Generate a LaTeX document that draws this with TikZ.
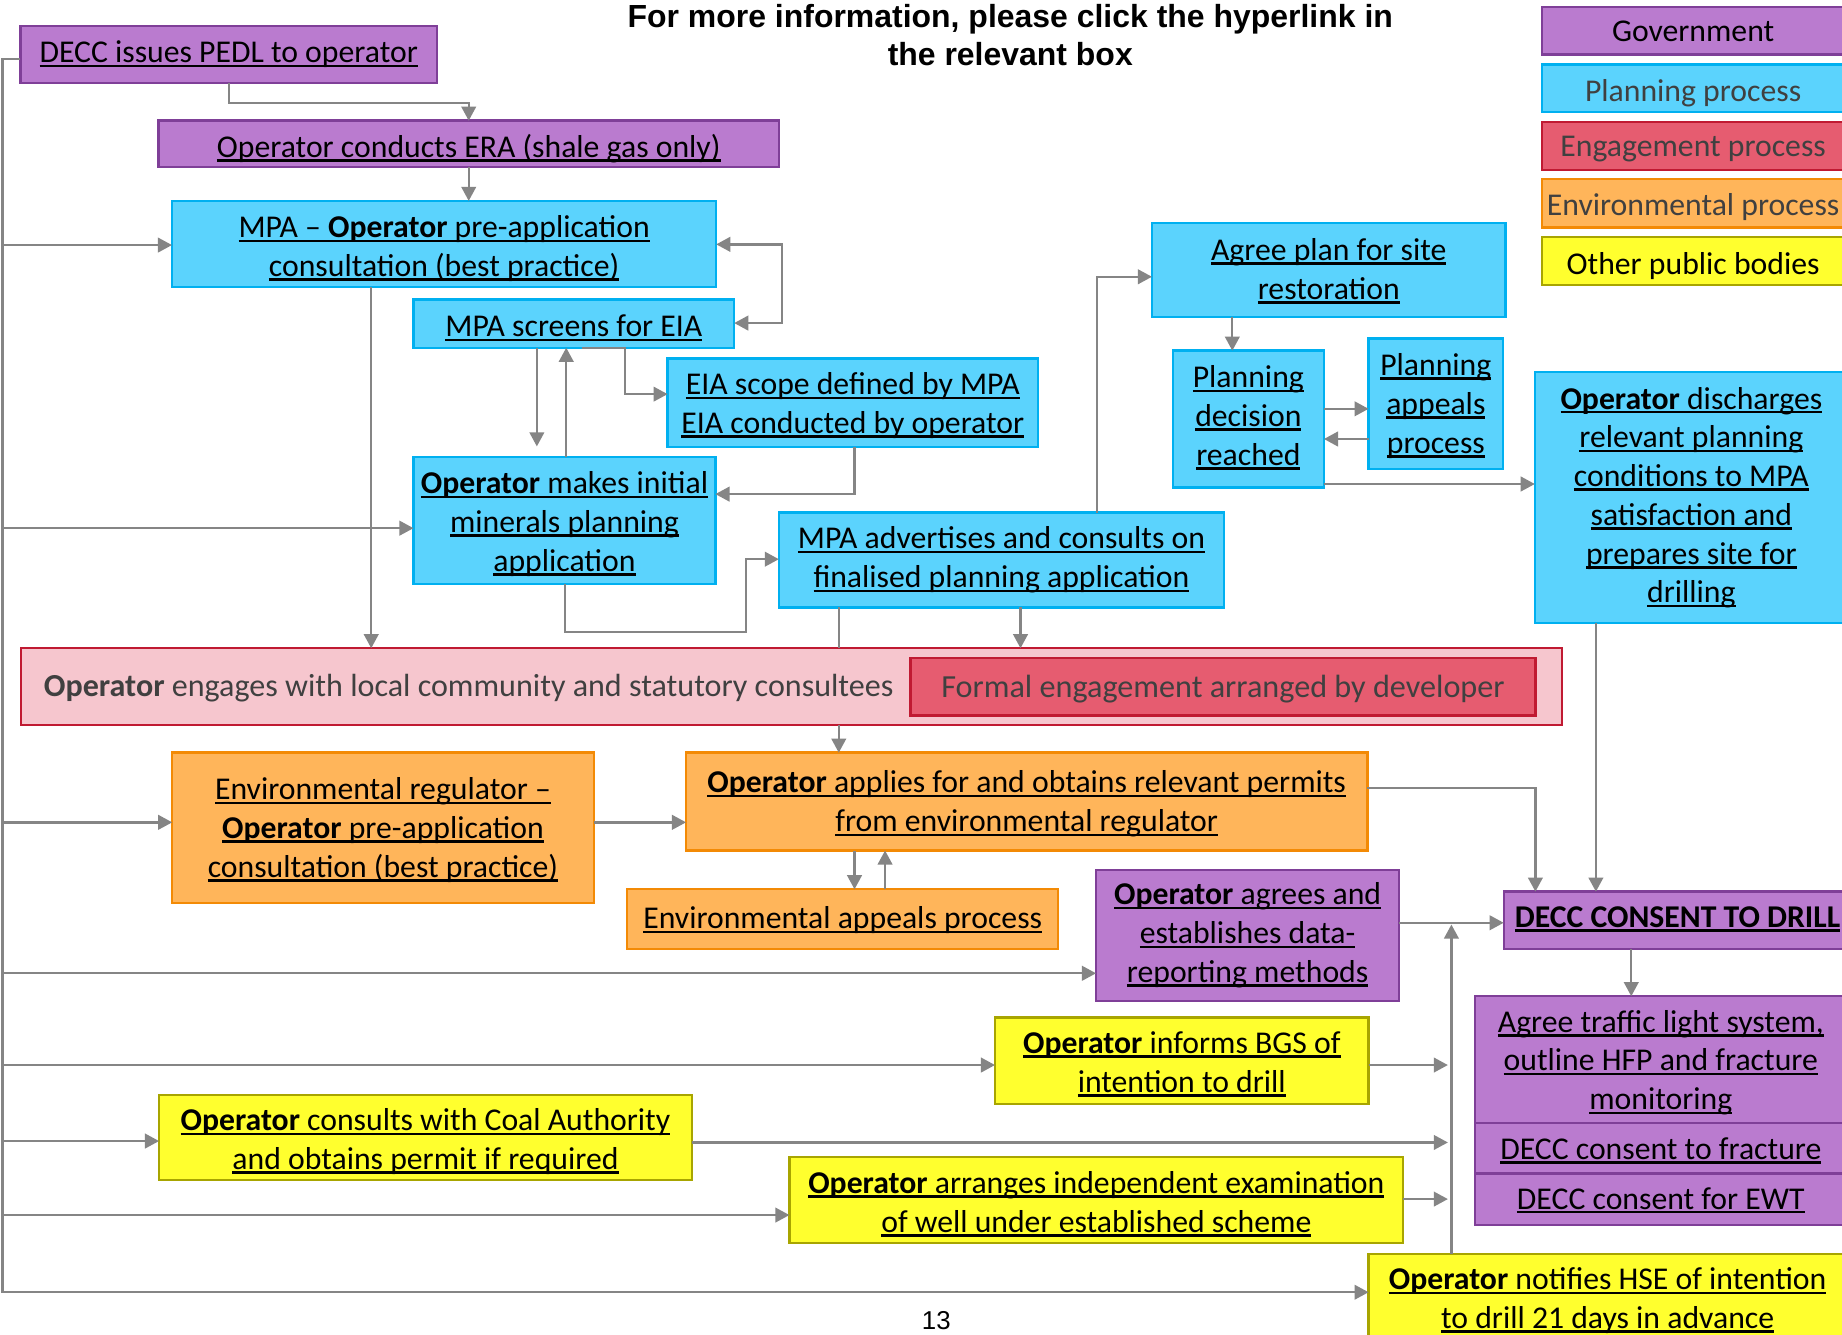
\documentclass[tikz,border=0pt]{standalone}
\usepackage{fontspec}
\setmainfont{Carlito}
\newfontfamily\arialfont{Liberation Sans}
\usetikzlibrary{arrows.meta}
\definecolor{govfill}{HTML}{BA7BCF}
\definecolor{govline}{HTML}{7F3F98}
\definecolor{planfill}{HTML}{5BD3FD}
\definecolor{planline}{HTML}{00B0F0}
\definecolor{engfill}{HTML}{E65C70}
\definecolor{engline}{HTML}{C01A32}
\definecolor{pinkfill}{HTML}{F6C6CE}
\definecolor{envfill}{HTML}{FFB55A}
\definecolor{envline}{HTML}{F38A05}
\definecolor{othfill}{HTML}{FFFF2E}
\definecolor{othline}{HTML}{A8A500}
\definecolor{conncol}{HTML}{858585}
\definecolor{txtgray}{HTML}{404040}
\newsavebox\lnkbox
\newcommand\lnk[1]{\leavevmode\sbox\lnkbox{#1}\rlap{\smash{\rule[-1.9pt]{\wd\lnkbox}{1.1pt}}}\usebox\lnkbox}
% \bx[text shift down, px]{name}{style}{x1}{y1}{x2}{y2}{text}
\newcommand\bx[8][2]{%
  \node[#3, minimum width={(#6-#4)*0.5pt}, minimum height={(#7-#5)*0.5pt}] (#2) at ({(#4+#6)/2},{(#5+#7)/2}) {};
  \node[#3, draw=none, fill=none] (#2t) at ([yshift={-(#1)*0.5pt}]#2.center) {#8};}
\tikzset{
  box/.style={draw, line width=1pt, inner sep=0pt, outer sep=0pt, align=center,
    font=\fontsize{13.5}{16.5}\selectfont},
  gov/.style={box, fill=govfill, draw=govline},
  plan/.style={box, fill=planfill, draw=planline},
  eng/.style={box, fill=engfill, draw=engline, text=txtgray},
  pink/.style={box, fill=pinkfill, draw=engline},
  env/.style={box, fill=envfill, draw=envline},
  oth/.style={box, fill=othfill, draw=othline},
  legtext/.style={text=txtgray},
  conn/.style={draw=conncol, line width=1pt},
  arr/.style={conn, -{Triangle[length=6pt,width=6.2pt]}},
  darr/.style={conn, {Triangle[length=6pt,width=6.2pt]}-{Triangle[length=6pt,width=6.2pt]}},
}
\begin{document}
\begin{tikzpicture}[x=0.5pt,y=-0.5pt]
\useasboundingbox (0,0) rectangle (1568,1136);
\fill[white] (0,0) rectangle (1568,1136);
\clip (0,0) rectangle (1568,1136);

% title
\node[font=\arialfont\bfseries\fontsize{13.6}{16}\selectfont, anchor=base, inner sep=0pt] (title1) at (860,23.5) {For more information, please click the hyperlink in};
\node[font=\arialfont\bfseries\fontsize{13.6}{16}\selectfont, anchor=base, inner sep=0pt] (title2) at (860,55.6) {the relevant box};

% legend
\bx[1]{lgov}{gov}{1312.5}{5.7}{1570}{46.3}{Government}
\bx[4]{lplan}{plan, legtext}{1312.5}{54.8}{1570}{95.6}{Planning process}
\bx[3]{leng}{eng}{1312.5}{103.6}{1570}{144.7}{Engagement process}
\bx[3]{lenv}{env, legtext}{1312.5}{152.4}{1570}{193.8}{Environmental process}
\bx[4]{loth}{oth}{1312.5}{201.5}{1570}{242.6}{Other public bodies}

% boxes
\bx[0]{pedl}{gov}{17.4}{22}{372}{70.4}{\lnk{DECC issues PEDL to operator}}
\bx[4]{era}{gov}{135}{102.7}{663}{142}{\lnk{Operator conducts ERA (shale gas only)}}
\bx[4]{mpa}{plan}{146.4}{171}{609.7}{244.3}{\lnk{MPA – \textbf{Operator} pre-application}\\\lnk{consultation (best practice)}}
\bx[2]{screens}{plan}{352}{255}{625}{296}{\lnk{MPA screens for EIA}}
\bx[2.5]{eia}{plan}{568.3}{305.3}{883.6}{380.3}{\lnk{EIA scope defined by MPA}\\\lnk{EIA conducted by operator}}
\bx[3]{opinit}{plan}{352}{389}{609}{497}{\lnk{\textbf{Operator} makes initial}\\\lnk{minerals planning}\\\lnk{application}}
\bx[0]{adv}{plan}{663}{436.4}{1042}{517}{\lnk{MPA advertises and consults on}\\\lnk{finalised planning application}}
\bx[-1]{agree}{plan}{980.6}{190}{1281.6}{269.6}{\lnk{Agree plan for site}\\\lnk{restoration}}
\bx[-3]{decision}{plan}{998.3}{298.5}{1127}{415}{\lnk{Planning}\\\lnk{decision}\\\lnk{reached}}
\bx[2]{appeals}{plan}{1165}{288}{1279.5}{399}{\lnk{Planning}\\\lnk{appeals}\\\lnk{process}}
\bx[0]{discharge}{plan}{1306.5}{316.7}{1573}{530.5}{\lnk{\textbf{Operator} discharges}\\\lnk{relevant planning}\\\lnk{conditions to MPA}\\\lnk{satisfaction and}\\\lnk{prepares site for}\\\lnk{drilling}}
\bx[0]{engage}{pink}{18}{551.8}{1329.5}{617}{}
\node[anchor=west, inner sep=0pt, text=txtgray, font=\fontsize{13.65}{16.5}\selectfont] (engtext) at (37,586) {\textbf{Operator} engages with local community and statutory consultees};
\bx[2]{formal}{eng, font=\fontsize{13.7}{16.5}\selectfont}{775}{560}{1307}{609}{Formal engagement arranged by developer}
\bx[2]{envreg}{env}{146.6}{640.7}{505.4}{768.4}{\lnk{Environmental regulator –}\\\lnk{\textbf{Operator} pre-application}\\\lnk{consultation (best practice)}}
\bx[2]{applies}{env}{584}{640.7}{1164}{724}{\lnk{\textbf{Operator} applies for and obtains relevant permits}\\\lnk{from environmental regulator}}
\bx[1]{envapp}{env}{534}{757}{900.7}{808}{\lnk{Environmental appeals process}}
\bx[0]{agrees}{gov}{933}{740.6}{1191}{852}{\lnk{\textbf{Operator} agrees and}\\\lnk{establishes data-}\\\lnk{reporting methods}}
\bx[-3]{drill}{gov}{1280}{759}{1576}{808}{\lnk{\textbf{DECC CONSENT TO DRILL}}}
\bx[2.5]{traffic}{gov}{1255.5}{848}{1572}{956}{\lnk{Agree traffic light system,}\\\lnk{outline HFP and fracture}\\\lnk{monitoring}}
\bx[0]{fracture}{gov}{1255.5}{956}{1572}{999}{\lnk{DECC consent to fracture}}
\bx[-1]{ewt}{gov}{1255.5}{999}{1572}{1043}{\lnk{DECC consent for EWT}}
\bx[1]{bgs}{oth}{847}{866}{1165}{940}{\lnk{\textbf{Operator} informs BGS of}\\\lnk{intention to drill}}
\bx[3.5]{coal}{oth}{135.4}{932}{589}{1004.5}{\lnk{\textbf{Operator} consults with Coal Authority}\\\lnk{and obtains permit if required}}
\bx[1.5]{indep}{oth}{672}{985}{1194.5}{1058}{\lnk{\textbf{Operator} arranges independent examination}\\\lnk{of well under established scheme}}
\bx[2]{hse}{oth}{1165}{1067.5}{1572}{1143}{\lnk{\textbf{Operator} notifies HSE of intention}\\\lnk{to drill 21 days in advance}}

\node[font=\arialfont\fontsize{11}{13}\selectfont, inner sep=0pt] (pagenum) at (797,1124) {13};

% free ends
\coordinate (spine) at (2,0);
\coordinate (junc) at (1235.5,0);
\coordinate (jtip) at (1235.5,787);

% spine and branches
\draw[arr] (pedl.west |- 0,50) -| (spine |- 0,1100) -- (hse.west |- 0,1100);
\draw[arr] (spine |- 0,208.6) -- (mpa.west |- 0,208.6);
\draw[arr] (spine |- 0,449.6) -- (opinit.west |- 0,449.6);
\draw[arr] (spine |- 0,700) -- (envreg.west |- 0,700);
\draw[arr] (spine |- 0,828.5) -- (agrees.west |- 0,828.5);
\draw[arr] (spine |- 0,906.6) -- (bgs.west |- 0,906.6);
\draw[arr] (spine |- 0,971.3) -- (coal.west |- 0,971.3);
\draw[arr] (spine |- 0,1034.3) -- (indep.west |- 0,1034.3);

% upper flow
\draw[arr] (pedl.south) -- ++(0,17) -| (era.north);
\draw[arr] (era.south) -- (era.south |- mpa.north);
\draw[arr] (316,0 |- mpa.south) -- (316,0 |- engage.north);
\draw[darr] (mpa.east |- 0,208) -- (665.4,208) -- (665.4,275) -- (screens.east |- 0,275);
\draw[arr, shorten >=4.5pt] (457,0 |- screens.south) -- (457,0 |- opinit.north);
\draw[arr] (482,0 |- opinit.north) -- (482,0 |- screens.south);
\draw[arr] (495,0 |- screens.south) -- (532,0 |- screens.south) |- (eia.west |- 0,335.5);
\draw[arr] (727.3,0 |- eia.south) |- (opinit.east |- 0,420.6);
\draw[arr] (481,0 |- opinit.south) -- (481,538) -| (635,476) -- (adv.west |- 0,476);
\draw[arr] (934,0 |- adv.north) |- (agree.west |- 0,235.6);
\draw[conn] (714,0 |- adv.south) -- (714,0 |- engage.north);
\draw[arr] (868.7,0 |- adv.south) -- (868.7,0 |- engage.north);
\draw[arr] (714,0 |- engage.south) -- (714,0 |- applies.north);
\draw[arr] (1049,0 |- agree.south) -- (1049,0 |- decision.north);
\draw[arr] (decision.east |- 0,348) -- (appeals.west |- 0,348);
\draw[arr] (appeals.west |- 0,373.7) -- (decision.east |- 0,373.7);
\draw[arr] (decision.east |- 0,412) -- (discharge.west |- 0,412);
\draw[arr] (1358.5,0 |- discharge.south) -- (1358.5,0 |- drill.north);

% lower flow
\draw[arr] (applies.east |- 0,670.5) -| (1307,0 |- drill.north);
\draw[arr] (727.4,0 |- applies.south) -- (727.4,0 |- envapp.north);
\draw[arr] (753.4,0 |- envapp.north) -- (753.4,0 |- applies.south);
\draw[arr] (envreg.east |- 0,700) -- (applies.west |- 0,700);
\draw[arr] (agrees.east |- 0,785.5) -- (drill.west |- 0,785.5);
\draw[arr] (junc |- hse.north) -- (jtip);
\draw[arr] (bgs.east |- 0,906.6) -- (1232.5,906.6);
\draw[arr] (coal.east |- 0,972.5) -- (1232.5,972.5);
\draw[arr] (indep.east |- 0,1020.7) -- (1232.5,1020.7);
\draw[arr] (1388.6,0 |- drill.south) -- (1388.6,0 |- traffic.north);
\end{tikzpicture}
\end{document}
